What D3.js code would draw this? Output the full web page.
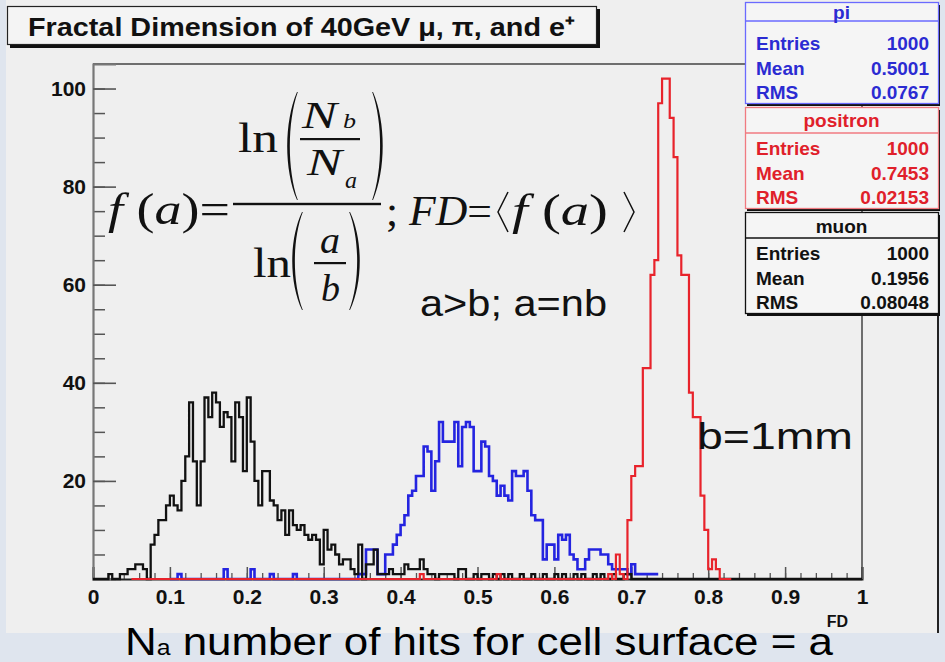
<!DOCTYPE html>
<html>
<head>
<meta charset="utf-8">
<script src="https://cdn.jsdelivr.net/npm/d3@7"></script>
<style>
  html, body { margin: 0; padding: 0; background: #dfe5ee; }
  svg { display: block; }
</style>
</head>
<body>
<svg id="chart" width="945" height="662"></svg>
<script>
// ---- histogram data: 200 bins of width 0.005 on FD in [0, 1] ----
const binWidth = 0.005;
const nBins = 200;

// muon (black), first bin starts at FD = 0
const muonStart = 0;
const muonCounts = [
  0,0,0,0,1,0,0,1,1,2, 2,3,3,2,0,7,9,12,12,15,
  17,15,14,20,25,36,24,15,24,37, 33,38,36,31,34,33,24,36,33,22,
  37,28,20,15,22,22,16,15,12,14, 9,14,11,10,11,9,8,9,8,3,
  10,6,7,5,3,4,4,2,1,7, 0,3,3,6,1,1,1,2,1,1,
  1,3,2,2,2,4,2,1,1,0, 1,1,1,1,0,2,2,0,0,1,
  0,1,1,0,1,0,1,0,1,0, 0,1,0,0,1,0,0,1,0,0,
  1,0,1,0,0,1,0,1,0,0, 1,0,1,0,0,1,0,0,1,1
];

// pion (blue), first bin starts at FD = 0.10
const piStart = 0.10;
const piCounts = [
  0,0,1,0,0,0,0,0,0,0, 0,0,0,0,2,0,0,0,0,0,
  0,2,0,0,0,0,1,0,0,0, 0,0,1,0,0,0,0,0,0,0,
  0,0,0,0,0,0,0,0,0,1, 1,6,6,6,1,1,5,5,7,9,
  11,13,17,18,21,21,27,26,18,24, 32,28,28,28,32,23,31,32,31,22,
  22,28,27,21,20,17,19,17,16,22, 21,21,22,18,13,12,12,4,7,7,
  4,9,8,9,5,4,2,2,4,6, 6,6,5,5,3,2,2,2,2,1,
  3,1,1,1,1,1,1
];

// positron (red), first bin starts at FD = 0.05
const positronStart = 0.05;
const positronCounts = [
  0,0,0,0,0,0,0,0,0,0, 0,0,0,0,0,0,0,0,0,0,
  0,0,0,0,0,0,0,0,0,0, 0,0,0,0,0,0,0,0,0,0,
  0,0,0,0,0,0,0,0,0,0, 0,0,0,0,0,0,0,0,0,0,
  0,0,0,0,0,0,0,0,0,0, 0,0,0,0,0,1,0,0,0,0,
  0,0,0,0,0,0,0,0,0,0, 0,0,0,0,0,1,0,0,0,0,
  0,0,0,0,0,0,0,0,0,0, 0,0,0,0,0,0,0,0,0,0,
  0,0,0,0,1,0,5,1,0,12, 21,23,23,43,43,62,65,97,102,102,
  94,86,66,62,62,38,33,33,17,10, 2,4,2,0,0,0
];

// ---- axis ticks ----
const xTickValues = [0, 0.1, 0.2, 0.3, 0.4, 0.5, 0.6, 0.7, 0.8, 0.9, 1];
const xTickLabels = ["0", "0.1", "0.2", "0.3", "0.4", "0.5", "0.6", "0.7", "0.8", "0.9", "1"];
const yTickValues = [20, 40, 60, 80, 100];
const yTickLabels = ["20", "40", "60", "80", "100"];

// ---- statistics boxes ----
const statTitles  = ["pi", "positron", "muon"];
const statEntries = ["1000", "1000", "1000"];
const statMeans   = ["0.5001", "0.7453", "0.1956"];
const statRMS     = ["0.0767", "0.02153", "0.08048"];

// ---- styling ----
const sans  = "'Liberation Sans', Arial, Helvetica, sans-serif";
const serif = "'Liberation Serif', 'Times New Roman', serif";
const lineColors = { pi: "#2424e0", positron: "#e8232b", muon: "#111111" };
const boxStyles = [
  { text: "#2b2bd2", border: "#6a6aff" },
  { text: "#e0202a", border: "#f07a80" },
  { text: "#111111", border: "#111111" }
];

const svg = d3.select("#chart");

// canvas
svg.append("rect").attr("x", 6).attr("y", 0).attr("width", 933).attr("height", 633)
  .attr("fill", "#efefef");
svg.append("line").attr("x1", 938).attr("x2", 938).attr("y1", 316).attr("y2", 633)
  .attr("stroke", "#222").attr("stroke-width", 2);

// scales
const x = d3.scaleLinear().domain([0, 1]).range([93, 862]);
const y = d3.scaleLinear().domain([0, 105]).range([579, 64]);

// frame (top and right edges)
svg.append("path")
  .attr("d", `M${x(0)},${y(105)}H${x(1)}V${y(0)}`)
  .attr("fill", "none").attr("stroke", "#444").attr("stroke-width", 1.5);

// x axis: minor ticks every 0.02, major every 0.1
const xMinor = svg.append("g").attr("transform", `translate(0,${y(0)})`)
  .call(d3.axisBottom(x).tickValues(d3.range(0, 50).map(i => i * 0.02)).tickSize(-6).tickFormat(""));
xMinor.select(".domain").remove();
xMinor.selectAll("line").attr("stroke", "#555").attr("stroke-width", 1.3);

const xMajor = svg.append("g").attr("transform", `translate(0,${y(0)})`)
  .call(d3.axisBottom(x).tickValues(xTickValues).tickSize(-12).tickPadding(10)
    .tickFormat((d, i) => xTickLabels[i]));
xMajor.select(".domain").attr("stroke", "#222").attr("stroke-width", 2);
xMajor.selectAll("line").attr("stroke", "#555").attr("stroke-width", 1.5);
xMajor.selectAll("text").attr("font-family", sans).attr("font-size", 21)
  .attr("font-weight", "bold").attr("fill", "#111");

// y axis: minor ticks every 5, major every 20
const yMinor = svg.append("g").attr("transform", `translate(${x(0)},0)`)
  .call(d3.axisLeft(y).tickValues(d3.range(1, 21).map(i => i * 5)).tickSize(-12).tickFormat(""));
yMinor.select(".domain").remove();
yMinor.selectAll("line").attr("stroke", "#555").attr("stroke-width", 1.5);

const yMajor = svg.append("g").attr("transform", `translate(${x(0)},0)`)
  .call(d3.axisLeft(y).tickValues(yTickValues).tickSize(-23).tickPadding(7)
    .tickFormat((d, i) => yTickLabels[i]));
yMajor.select(".domain").attr("stroke", "#777").attr("stroke-width", 2.2);
yMajor.selectAll("line").attr("stroke", "#555").attr("stroke-width", 1.6);
yMajor.selectAll("text").attr("font-family", sans).attr("font-size", 21)
  .attr("font-weight", "bold").attr("fill", "#111");

// x axis title
svg.append("text").attr("x", 848).attr("y", 627).attr("text-anchor", "end")
  .attr("font-family", sans).attr("font-weight", "bold").attr("font-size", 16)
  .attr("fill", "#111").text("FD");

// histograms as step outlines
function stepPoints(start, counts) {
  const pts = counts.map((v, i) => [start + i * binWidth, v]);
  pts.push([start + counts.length * binWidth, counts[counts.length - 1]]);
  return pts;
}
const stepLine = d3.line().x(d => x(d[0])).y(d => y(d[1])).curve(d3.curveStepAfter);

const muonFull = d3.range(nBins).map(i => (i < muonCounts.length ? muonCounts[i] : 0));

svg.append("path").attr("d", stepLine(stepPoints(piStart, piCounts)))
  .attr("fill", "none").attr("stroke", lineColors.pi).attr("stroke-width", 2.6);
svg.append("path").attr("d", stepLine(stepPoints(muonStart, muonFull)))
  .attr("fill", "none").attr("stroke", lineColors.muon).attr("stroke-width", 2.3);
svg.append("path").attr("d", stepLine(stepPoints(positronStart, positronCounts)))
  .attr("fill", "none").attr("stroke", lineColors.positron).attr("stroke-width", 2.2);

// ---- formula ----
const fm = svg.append("g").attr("fill", "#111");

function parenPath(x0, x1, top, bot, left) {
  // tapered bracket, thick in the middle
  const h = bot - top, t = 3.2;
  const xe = left ? x1 : x0, xm = left ? x0 : x1, s = left ? 1 : -1;
  return `M${xe},${top} C${xm},${top + 0.28 * h} ${xm},${bot - 0.28 * h} ${xe},${bot}` +
         `L${xe + s * 0.8},${bot} C${xm + s * t},${bot - 0.28 * h} ${xm + s * t},${top + 0.28 * h} ${xe + s * 0.8},${top}Z`;
}

function piece(px, py, size, parts, len) {
  const t = fm.append("text").attr("x", px).attr("y", py)
    .attr("font-family", serif).attr("font-size", size);
  parts.forEach(p => {
    t.append("tspan").attr("font-style", p[1] ? "italic" : "normal").text(p[0]);
  });
  if (len) t.attr("textLength", len).attr("lengthAdjust", "spacingAndGlyphs");
  return t;
}

piece(108, 224, 44, [["f", true], [" (", false], ["a", true], [")=", false]], 122);
fm.append("rect").attr("x", 233).attr("y", 202.8).attr("width", 148).attr("height", 2.4);

// numerator
piece(238, 152, 42, [["ln", false]], 40);
fm.append("path").attr("d", parenPath(284, 297, 92, 200, true));
fm.append("path").attr("d", parenPath(373, 386, 92, 200, false));
piece(302, 128, 38, [["N", true]], 35);
piece(343, 128, 21, [["b", true]], 13);
fm.append("rect").attr("x", 300).attr("y", 138).attr("width", 60).attr("height", 2.2);
piece(307, 175, 38, [["N", true]], 35);
piece(345, 188, 24, [["a", true]], 12);

// denominator
piece(253, 277, 42, [["ln", false]], 38);
fm.append("path").attr("d", parenPath(289, 302, 212, 310, true));
fm.append("path").attr("d", parenPath(350, 363, 212, 310, false));
piece(320, 253, 38, [["a", true]], 20);
fm.append("rect").attr("x", 314).attr("y", 262).attr("width", 32).attr("height", 2.2);
piece(321, 301, 38, [["b", true]], 19);

// mean of f(a)
piece(386, 225, 42, [[";", false], [" FD", true], ["=", false]], 106);
fm.append("path").attr("d", "M508,192 L498,212 L508,232").attr("fill", "none")
  .attr("stroke", "#111").attr("stroke-width", 1.5);
piece(512, 225, 44, [["f", true], [" (", false], ["a", true], [")", false]], 96);
fm.append("path").attr("d", "M624,192 L634,212 L624,232").attr("fill", "none")
  .attr("stroke", "#111").attr("stroke-width", 1.5);

// annotations
svg.append("text").attr("x", 420).attr("y", 316).attr("font-family", sans)
  .attr("font-size", 37).attr("fill", "#111")
  .attr("textLength", 187).attr("lengthAdjust", "spacingAndGlyphs").text("a>b; a=nb");
svg.append("text").attr("x", 697).attr("y", 449).attr("font-family", sans)
  .attr("font-size", 36).attr("fill", "#111")
  .attr("textLength", 156).attr("lengthAdjust", "spacingAndGlyphs").text("b=1mm");

// ---- title ----
svg.append("rect").attr("x", 10).attr("y", 9).attr("width", 590).attr("height", 39).attr("fill", "#111");
svg.append("rect").attr("x", 7.5).attr("y", 6.5).attr("width", 589).attr("height", 38)
  .attr("fill", "#f4f4f4").attr("stroke", "#222").attr("stroke-width", 1.2);
svg.append("text").attr("x", 28).attr("y", 36).attr("font-family", sans).attr("font-weight", "bold")
  .attr("font-size", 26).attr("fill", "#111")
  .attr("textLength", 547).attr("lengthAdjust", "spacingAndGlyphs")
  .text("Fractal Dimension of 40GeV \u03BC, \u03C0, and e\u207A");

// ---- statistics boxes ----
const boxLayout = [
  { top: 2,   sep: 19, head: 17 },
  { top: 107, sep: 26, head: 20 },
  { top: 212, sep: 26, head: 21 }
];
const boxX = 745, boxW = 193, boxH = 101;
const rowOffsets = [48, 73, 97];

statTitles.forEach((title, i) => {
  const L = boxLayout[i], S = boxStyles[i];
  const g = svg.append("g");
  g.append("rect").attr("x", boxX + 2).attr("y", L.top + 3).attr("width", boxW).attr("height", boxH)
    .attr("fill", "#111");
  g.append("rect").attr("x", boxX + 0.5).attr("y", L.top + 0.5).attr("width", boxW).attr("height", boxH)
    .attr("fill", "#f5f5f5").attr("stroke", S.border).attr("stroke-width", 1.3);
  g.append("line").attr("x1", boxX).attr("x2", boxX + boxW).attr("y1", L.top + L.sep).attr("y2", L.top + L.sep)
    .attr("stroke", S.border).attr("stroke-width", 1.3);
  g.append("text").attr("x", boxX + boxW / 2).attr("y", L.top + L.head).attr("text-anchor", "middle")
    .attr("font-family", sans).attr("font-weight", "bold").attr("font-size", 19).attr("fill", S.text)
    .text(title);
  const rows = [["Entries", statEntries[i]], ["Mean", statMeans[i]], ["RMS", statRMS[i]]];
  rows.forEach((r, j) => {
    g.append("text").attr("x", boxX + 11).attr("y", L.top + rowOffsets[j])
      .attr("font-family", sans).attr("font-weight", "bold").attr("font-size", 19).attr("fill", S.text)
      .text(r[0]);
    g.append("text").attr("x", boxX + boxW - 9).attr("y", L.top + rowOffsets[j]).attr("text-anchor", "end")
      .attr("font-family", sans).attr("font-weight", "bold").attr("font-size", 19).attr("fill", S.text)
      .text(r[1]);
  });
});

// ---- caption below the canvas ----
const cap = svg.append("text").attr("x", 125).attr("y", 655).attr("font-family", sans)
  .attr("font-size", 39).attr("fill", "#000")
  .attr("textLength", 708).attr("lengthAdjust", "spacingAndGlyphs");
cap.append("tspan").text("N");
cap.append("tspan").attr("font-size", 22).text("a");
cap.append("tspan").text(" number of hits for cell surface = a");
</script>
</body>
</html>
